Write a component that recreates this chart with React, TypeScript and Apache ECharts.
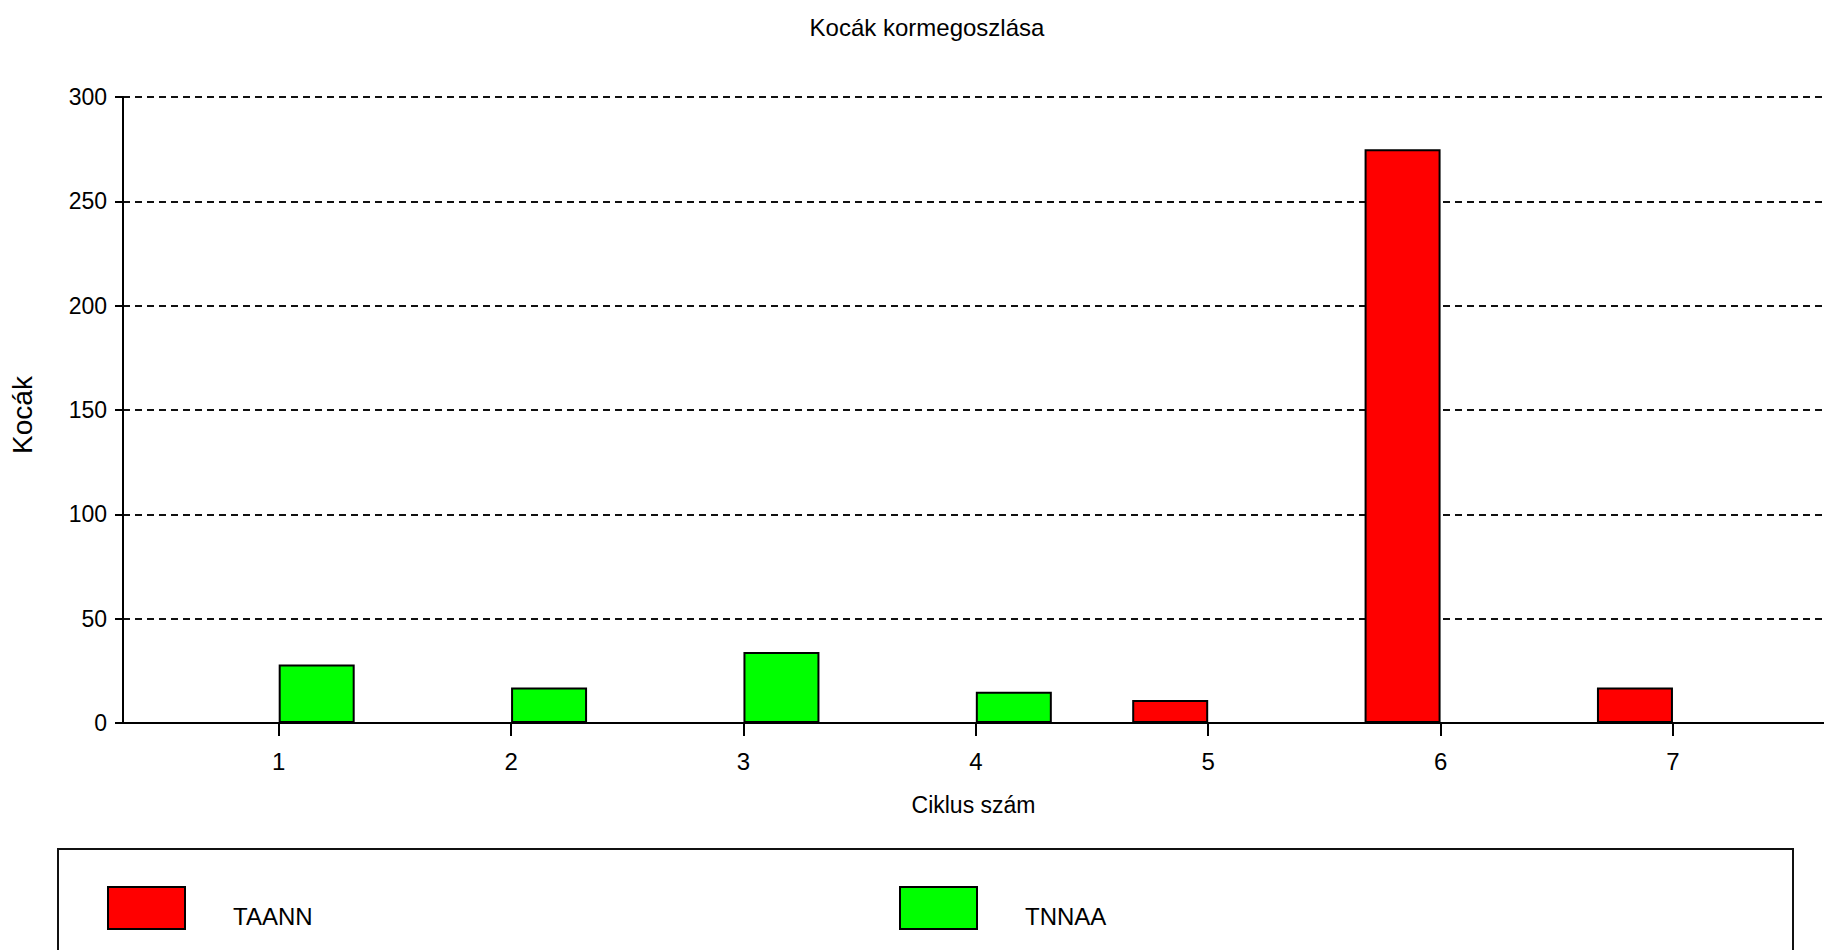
import React, { useEffect, useRef } from "react";
import * as echarts from "echarts";

const xTicks = [1, 2, 3, 4, 5, 6, 7];
const taannX = [5, 6, 7];
const taannY = [11, 275, 17];
const tnnaaX = [1, 2, 3, 4];
const tnnaaY = [28, 17, 34, 15];
const seriesNames = ["TAANN", "TNNAA"];
const titleText = "Kocák kormegoszlása";
const xName = "Ciklus szám";
const yName = "Kocák";

const SANS = "'Liberation Sans', Arial, Helvetica, sans-serif";

export default function App() {
  const ref = useRef<HTMLDivElement>(null);
  useEffect(() => {
    if (!ref.current) return;
    const chart = echarts.init(ref.current, null, { renderer: "svg" });
    const legendCommon = {
      orient: "horizontal",
      padding: 0,
      itemWidth: 77,
      itemHeight: 42,
      icon: "rect",
      selectedMode: false,
      formatter: "{g| }\n{t|{name}}",
      textStyle: {
        fontFamily: SANS,
        fontSize: 24,
        color: "#000",
        padding: [0, 0, 0, 43],
        rich: {
          g: { fontSize: 1, lineHeight: 16, height: 16 },
          t: { fontFamily: SANS, fontSize: 24, lineHeight: 28, color: "#000" },
        },
      },
    };
    chart.setOption({
      animation: false,
      backgroundColor: "#fff",
      title: {
        text: titleText,
        left: 922,
        top: 8,
        textAlign: "center",
        textStyle: {
          fontFamily: SANS,
          fontSize: 24,
          lineHeight: 28,
          fontWeight: "normal",
          color: "#000",
        },
      },
      legend: [
        {
          ...legendCommon,
          data: [{ name: seriesNames[0], itemStyle: { color: "#ff0000", borderColor: "#000", borderWidth: 2 } }],
          left: 107,
          top: 886,
        },
        {
          ...legendCommon,
          data: [{ name: seriesNames[1], itemStyle: { color: "#00ff00", borderColor: "#000", borderWidth: 2 } }],
          left: 899,
          top: 886,
        },
      ],
      graphic: [
        {
          type: "rect",
          shape: { x: 58, y: 849, width: 1735, height: 200 },
          style: { fill: "none", stroke: "#111", lineWidth: 2 },
          silent: true,
        },
      ],
      grid: { left: 120, top: 97, right: 0, bottom: 227, containLabel: false },
      xAxis: {
        type: "value",
        min: 0.33,
        max: 7.65,
        name: xName,
        nameLocation: "middle",
        nameGap: 68,
        nameTextStyle: { fontFamily: SANS, fontSize: 23, lineHeight: 28, color: "#000" },
        axisLine: { show: true, lineStyle: { color: "#000", width: 2 } },
        axisTick: { show: true, customValues: xTicks, length: 13, lineStyle: { color: "#000", width: 2 } },
        axisLabel: {
          customValues: xTicks,
          margin: 24,
          fontFamily: SANS,
          fontSize: 24,
          lineHeight: 28,
          color: "#000",
        },
        splitLine: { show: false },
      },
      yAxis: {
        type: "value",
        min: 0,
        max: 300,
        interval: 50,
        name: yName,
        nameLocation: "middle",
        nameGap: 87,
        nameTextStyle: { fontFamily: SANS, fontSize: 28, color: "#000", padding: [0, 10, 0, 0] },
        axisLine: { show: true, lineStyle: { color: "#000", width: 2 } },
        axisTick: { show: true, length: 8, lineStyle: { color: "#000", width: 2 } },
        axisLabel: { margin: 16, fontFamily: SANS, fontSize: 23, color: "#000" },
        splitLine: { show: true, lineStyle: { color: "#111", width: 2, type: [7, 5] } },
      },
      series: [
        {
          name: seriesNames[0],
          type: "bar",
          barWidth: 76,
          barGap: "0%",
          data: taannX.map((x, i) => [x, taannY[i]]),
          itemStyle: { color: "#ff0000", borderColor: "#000", borderWidth: 2 },
        },
        {
          name: seriesNames[1],
          type: "bar",
          barWidth: 76,
          barGap: "0%",
          data: tnnaaX.map((x, i) => [x, tnnaaY[i]]),
          itemStyle: { color: "#00ff00", borderColor: "#000", borderWidth: 2 },
        },
      ],
    });
    return () => chart.dispose();
  }, []);
  return <div ref={ref} style={{ position: "fixed", left: 0, top: 0, width: 1824, height: 950 }} />;
}
